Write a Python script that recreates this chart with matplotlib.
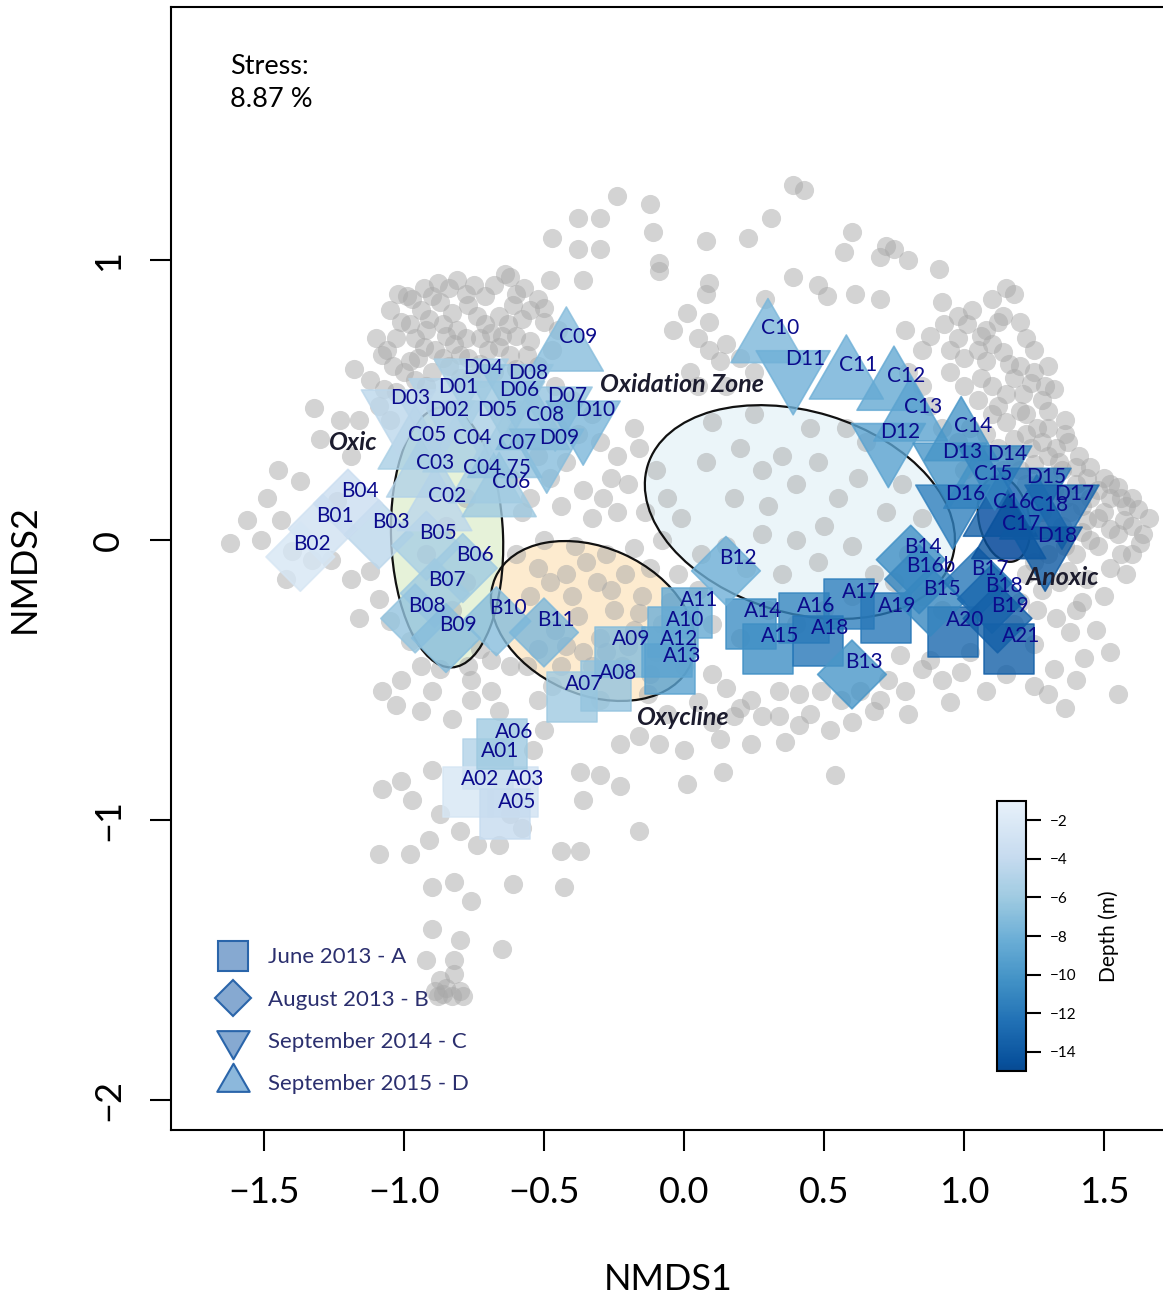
import numpy as np
import matplotlib
matplotlib.use('Agg')
import matplotlib.pyplot as plt
from matplotlib.patches import Ellipse
from matplotlib.lines import Line2D
from matplotlib.markers import MarkerStyle
from matplotlib.path import Path
from matplotlib.colors import ListedColormap, Normalize
from matplotlib.cm import ScalarMappable

plt.rcParams['font.family'] = ['Lato', 'DejaVu Sans']

# all OTU / site scores in grey (background)
bg_pts = [
    (0.39, 1.27), (0.43, 1.25), (-0.24, 1.23), (-0.38, 1.15), (-0.12, 1.20), (-0.30, 1.15), (0.31, 1.15),
    (-0.11, 1.10), (-0.47, 1.08), (0.08, 1.07), (0.23, 1.08), (0.60, 1.10), (-0.30, 1.04), (-0.38, 1.04),
    (0.70, 1.01), (0.75, 1.04), (0.72, 1.05), (0.57, 1.03), (0.80, 1.00), (0.91, 0.97), (-0.09, 0.99),
    (-0.09, 0.96), (0.39, 0.94), (0.48, 0.91), (-0.62, 0.94), (-0.48, 0.93), (-0.36, 0.93), (0.09, 0.92),
    (0.08, 0.88), (0.51, 0.87), (0.70, 0.86), (0.61, 0.88), (0.29, 0.86), (0.01, 0.81), (0.09, 0.78),
    (-0.04, 0.75), (0.15, 0.70), (0.05, 0.72), (0.09, 0.68), (0.13, 0.64), (0.20, 0.65), (0.02, 0.60),
    (0.92, 0.85), (1.03, 0.82), (1.14, 0.80), (0.93, 0.77), (1.01, 0.77), (0.79, 0.75), (0.88, 0.73),
    (1.10, 0.70), (1.14, 0.67), (1.20, 0.62), (1.25, 0.60), (1.29, 0.55), (1.32, 0.54), (1.21, 0.52),
    (1.28, 0.50), (1.30, 0.46), (1.36, 0.43), (1.20, 0.46), (1.26, 0.40), (1.37, 0.35), (1.41, 0.30),
    (1.33, 0.33), (1.45, 0.26), (1.50, 0.22), (1.55, 0.19), (1.60, 0.15), (1.62, 0.11), (1.57, 0.07),
    (1.50, 0.10), (1.44, 0.07), (1.55, 0.02), (1.63, -0.01), (1.48, -0.02), (1.40, -0.05), (1.52, -0.10),
    (1.44, -0.14), (1.37, -0.11), (1.50, -0.20), (1.42, -0.22), (1.33, -0.28), (1.47, -0.32), (1.38, -0.33),
    (1.25, -0.37), (1.43, -0.42), (1.32, -0.46), (1.52, -0.40), (1.40, -0.50), (1.30, -0.55), (1.36, -0.60),
    (1.55, -0.55), (1.05, 0.50), (1.10, 0.45), (1.15, 0.42), (1.22, 0.38), (1.28, 0.35), (1.35, 0.25),
    (1.40, 0.20), (1.32, 0.18), (1.45, 0.15), (1.38, 0.10), (1.52, 0.15), (1.58, 0.12), (1.45, 0.00),
    (1.35, 0.05), (1.28, 0.10), (1.22, 0.20), (1.25, 0.27), (1.18, 0.30), (1.10, 0.20), (1.00, 0.25),
    (0.98, 0.35), (0.92, 0.40), (0.88, 0.48), (0.85, 0.55), (0.80, 0.60), (0.95, 0.60), (1.00, 0.65),
    (0.85, 0.68), (1.06, 0.58), (1.60, 0.05), (1.66, 0.08), (1.60, -0.05), (1.52, 0.04),
    (1.10, 0.86), (1.18, 0.88), (1.15, 0.90), (1.08, 0.75), (0.98, 0.72), (1.25, 0.68), (1.05, 0.68),
    (1.20, 0.78), (1.30, 0.62),
    (1.02, 0.40), (1.08, 0.38), (1.12, 0.33), (1.18, 0.36), (1.24, 0.33), (1.30, 0.30), (1.34, 0.28),
    (1.40, 0.26), (1.44, 0.22), (1.48, 0.18), (1.52, 0.20), (1.56, 0.15), (1.42, 0.12), (1.36, 0.15),
    (1.30, 0.22), (1.26, 0.20), (1.20, 0.25), (1.14, 0.25), (1.06, 0.30), (1.48, 0.08), (1.42, 0.03),
    (1.36, -0.02), (1.30, -0.05), (1.25, -0.08), (1.34, -0.15), (1.28, -0.18), (1.22, -0.12), (1.20, -0.22),
    (1.18, -0.30), (1.26, -0.25), (1.40, -0.25), (1.56, -0.05), (1.58, -0.12), (1.64, 0.02), (1.10, 0.55),
    (1.15, 0.52), (1.12, 0.48), (1.18, 0.58), (1.24, 0.56), (1.30, 0.40), (1.36, 0.38), (1.22, 0.45),
    (1.16, 0.63), (1.22, 0.72), (1.12, 0.78), (1.06, 0.73), (0.98, 0.80), (0.95, 0.68), (1.08, 0.64),
    (1.00, 0.55),
    (1.08, -0.54), (0.99, -0.47), (0.92, -0.50), (0.85, -0.46), (0.77, -0.41), (0.88, -0.43), (0.79, -0.54),
    (0.70, -0.57), (0.68, -0.61), (0.63, -0.54), (0.73, -0.50), (0.56, -0.57), (0.49, -0.54), (0.41, -0.55),
    (0.34, -0.54), (0.34, -0.63), (0.41, -0.66), (0.28, -0.63), (0.24, -0.57), (0.24, -0.73), (0.13, -0.71),
    (0.14, -0.83), (0.01, -0.87), (-0.16, -1.04), (0.54, -0.84), (0.00, -0.75), (-0.09, -0.73), (-0.16, -0.70),
    (-0.23, -0.73), (-0.30, -0.57), (-0.37, -0.83), (-0.30, -0.84), (-0.23, -0.88), (-0.36, -0.93),
    (-0.37, -1.11), (-0.44, -1.11), (-0.43, -1.24), (-0.61, -1.23), (-0.65, -1.46), (-0.76, -1.29),
    (-0.82, -1.22), (-0.80, -1.43), (-0.90, -1.39), (-0.92, -1.50), (-0.87, -1.57), (-0.82, -1.55),
    (-0.86, -1.62), (-0.80, -1.61), (-0.89, -1.61), (-0.82, -1.50), (-0.90, -1.24), (-0.91, -1.07),
    (-0.98, -1.12), (-1.09, -1.12), (-1.08, -0.89), (-1.01, -0.86), (-0.97, -0.93), (-0.90, -0.82),
    (-0.87, -0.98), (-0.80, -1.04), (-0.74, -1.09), (-0.66, -1.09), (-0.62, -0.98), (-0.58, -1.03),
    (-0.83, -0.64), (-0.76, -0.57), (-0.94, -0.61), (-1.03, -0.59), (-1.08, -0.54), (-1.01, -0.50),
    (-0.90, -0.54), (-0.76, -0.50), (-0.69, -0.54), (-0.66, -0.61), (-0.52, -0.57), (-0.50, -0.68),
    (-0.54, -0.75), (-0.62, -0.45), (-0.69, -0.43), (-0.52, -0.39), (-0.85, -1.60), (-0.83, -1.63),
    (-0.79, -1.63), (-0.88, -1.63),
    (0.60, -0.65), (0.52, -0.68), (0.45, -0.62), (0.36, -0.72), (0.20, -0.60), (0.10, -0.65), (0.80, -0.62),
    (0.95, -0.58), (1.02, -0.40), (1.15, -0.48), (1.25, -0.52),
    (-1.62, -0.01), (-1.56, 0.07), (-1.49, 0.15), (-1.45, 0.25), (-1.37, 0.21), (-1.32, 0.47), (-1.18, 0.61),
    (-1.12, 0.57), (-1.16, 0.43), (-1.23, 0.43), (-1.09, 0.48), (-1.07, 0.54), (-1.05, 0.43), (-1.30, 0.36),
    (-1.19, 0.30), (-1.24, 0.14), (-1.44, 0.07), (-1.40, -0.04), (-1.51, 0.00), (-1.42, -0.14), (-1.33, -0.07),
    (-1.26, -0.07), (-1.19, -0.14), (-1.12, -0.11), (-1.16, -0.28), (-1.09, -0.21), (-1.05, -0.29),
    (-0.98, -0.36), (-0.94, -0.45), (-0.87, -0.46), (-0.73, -0.39), (-0.77, -0.45),
    (-0.92, -0.05), (-0.85, 0.05), (-0.78, -0.15), (-0.83, -0.25), (-0.78, 0.15), (-0.90, 0.35),
    (-1.02, 0.88), (-0.97, 0.86), (-0.87, 0.85), (-0.77, 0.84), (-0.71, 0.87), (-0.61, 0.84), (-0.55, 0.82),
    (-0.98, 0.77), (-0.94, 0.82), (-0.83, 0.81), (-0.71, 0.77), (-0.66, 0.80), (-0.50, 0.78), (-1.03, 0.72),
    (-0.92, 0.75), (-0.85, 0.73), (-0.78, 0.72), (-0.60, 0.73), (-1.06, 0.68), (-0.95, 0.65), (-0.89, 0.68),
    (-0.80, 0.66), (-0.73, 0.63), (-0.66, 0.69), (-1.00, 0.60), (-0.90, 0.60), (-0.84, 0.62), (-0.68, 0.60),
    (-1.03, 0.53), (-0.92, 0.55), (-0.76, 0.58), (-0.88, 0.92), (-0.93, 0.90), (-0.81, 0.93), (-0.75, 0.91),
    (-0.64, 0.95), (-0.57, 0.90), (-0.52, 0.86), (-0.99, 0.87), (-1.05, 0.82),
    (-1.01, 0.78), (-0.96, 0.72), (-0.91, 0.79), (-0.86, 0.77), (-0.81, 0.75), (-0.74, 0.80), (-0.69, 0.74),
    (-0.63, 0.77), (-0.58, 0.79), (-0.55, 0.71), (-0.62, 0.66), (-0.70, 0.68), (-0.77, 0.65), (-0.86, 0.65),
    (-0.98, 0.64), (-1.04, 0.62), (-0.93, 0.69), (-0.82, 0.70), (-0.73, 0.72), (-0.65, 0.73), (-0.56, 0.66),
    (-0.60, 0.61), (-0.72, 0.58), (-0.80, 0.58), (-0.96, 0.57), (-1.08, 0.66), (-1.10, 0.72), (-0.90, 0.87),
    (-0.84, 0.90), (-0.78, 0.88), (-0.68, 0.91), (-0.60, 0.88), (-0.50, 0.83), (-0.45, 0.75), (-0.47, 0.68),
    (-0.52, 0.62),
    (-0.46, 0.55), (-0.40, 0.50), (-0.33, 0.45), (-0.30, 0.35), (-0.24, 0.30), (-0.16, 0.33), (-0.10, 0.25),
    (-0.20, 0.20), (-0.36, 0.18), (-0.29, 0.15), (-0.42, 0.28), (-0.48, 0.22), (-0.55, 0.15), (-0.58, 0.10),
    (-0.44, 0.12), (-0.33, 0.08), (-0.24, 0.10), (-0.14, 0.10), (-0.06, 0.15), (-0.01, 0.08), (-0.08, 0.00),
    (-0.18, -0.03), (-0.28, -0.05), (-0.39, -0.02), (-0.50, 0.00), (-0.60, -0.05), (-0.52, -0.10),
    (-0.42, -0.12), (-0.31, -0.15), (-0.21, -0.12), (-0.12, -0.10), (-0.02, -0.12), (0.06, -0.05),
    (0.05, -0.18), (-0.05, -0.22), (-0.15, -0.20), (-0.25, -0.25), (-0.38, -0.27), (-0.46, -0.32),
    (-0.30, -0.35), (-0.18, -0.32), (-0.10, -0.40), (-0.22, -0.45), (-0.33, -0.45), (-0.44, -0.45),
    (-0.13, -0.55), (0.00, -0.45), (0.10, -0.48), (0.05, -0.58), (-0.06, -0.62), (0.18, -0.63), (0.15, -0.53),
    (-0.55, -0.20), (-0.48, -0.15), (-0.40, -0.20), (-0.35, -0.08), (-0.26, -0.18), (-0.16, -0.26),
    (-0.08, -0.30), (-0.42, -0.38), (-0.36, -0.40), (-0.28, -0.40), (-0.20, -0.38), (-0.12, -0.48),
    (-0.56, -0.45), (-0.47, -0.52), (-0.62, 0.22), (-0.52, 0.30), (-0.45, 0.40), (-0.38, 0.38),
    (-0.26, 0.22), (-0.18, 0.40),
    (0.08, 0.28), (0.20, 0.33), (0.28, 0.25), (0.18, 0.15), (0.30, 0.12), (0.40, 0.20), (0.48, 0.28),
    (0.35, 0.30), (0.55, 0.15), (0.62, 0.22), (0.72, 0.10), (0.50, 0.05), (0.40, 0.00), (0.28, 0.02),
    (0.15, -0.02), (0.22, -0.10), (0.35, -0.12), (0.48, -0.08), (0.60, -0.02), (0.68, -0.12), (0.80, -0.05),
    (0.85, 0.08), (0.78, 0.20), (0.65, 0.35), (0.45, 0.40), (0.10, 0.42), (0.25, 0.45), (0.58, 0.40),
    (0.75, -0.15), (0.85, -0.20), (0.92, -0.25), (0.30, -0.25), (0.40, -0.30), (0.10, -0.30), (0.20, -0.35),
    (0.60, -0.20), (0.50, -0.25), (0.05, 0.55), (0.15, 0.55), (0.25, 0.60),
]

# samples: June 2013 (A)
A_names = ['A01', 'A02', 'A03', 'A05', 'A06', 'A07', 'A08', 'A09', 'A10', 'A11', 'A12', 'A13',
           'A14', 'A15', 'A16', 'A17', 'A18', 'A19', 'A20', 'A21']
A_x = [-0.70, -0.77, -0.61, -0.64, -0.65, -0.40, -0.28, -0.23, -0.04, 0.01, -0.06, -0.05,
       0.24, 0.30, 0.43, 0.59, 0.48, 0.72, 0.96, 1.16]
A_y = [-0.80, -0.90, -0.90, -0.98, -0.73, -0.56, -0.52, -0.40, -0.33, -0.26, -0.40, -0.46,
       -0.30, -0.39, -0.28, -0.23, -0.36, -0.28, -0.33, -0.39]
A_depth = [-5, -2.5, -3, -4, -6, -6, -6.5, -7, -8, -8.5, -8.5, -9,
           -10.5, -10.5, -11, -11.5, -12, -12, -13, -13.5]

# August 2013 (B)
B_names = ['B01', 'B02', 'B03', 'B04', 'B05', 'B06', 'B07', 'B08', 'B09', 'B10', 'B11', 'B12',
           'B13', 'B14', 'B15', 'B16b', 'B17', 'B18', 'B19']
B_x = [-1.29, -1.37, -1.09, -1.20, -0.92, -0.79, -0.89, -0.96, -0.85, -0.67, -0.50, 0.15,
       0.60, 0.81, 0.88, 0.84, 1.05, 1.10, 1.12]
B_y = [0.04, -0.06, 0.02, 0.13, -0.02, -0.10, -0.19, -0.28, -0.35, -0.29, -0.33, -0.11,
       -0.48, -0.07, -0.22, -0.14, -0.15, -0.21, -0.28]
B_depth = [-3, -2.5, -4.5, -3.5, -5.5, -6, -6, -6.5, -7, -7, -7.5, -8,
           -10, -10.5, -11, -11, -12, -13, -13.5]

# September 2014 (C)
C_names = ['C02', 'C03', 'C04', 'C04 75', 'C05', 'C06', 'C07', 'C08', 'C09', 'C10', 'C11', 'C12',
           'C13', 'C14', 'C15', 'C16', 'C17', 'C18']
C_x = [-0.89, -0.93, -0.80, -0.71, -0.96, -0.66, -0.64, -0.54, -0.42, 0.30, 0.58, 0.75,
       0.81, 0.99, 1.06, 1.13, 1.16, 1.26]
C_y = [0.11, 0.23, 0.32, 0.21, 0.33, 0.16, 0.30, 0.40, 0.68, 0.71, 0.58, 0.54,
       0.43, 0.36, 0.19, 0.09, 0.01, 0.08]
C_depth = [-4.5, -5, -5.5, -5.5, -5.5, -6, -6.5, -7, -7, -7.5, -8, -8.5,
           -9, -10, -11, -13.5, -14.5, -14]

# September 2015 (D)
D_names = ['D01', 'D02', 'D03', 'D04', 'D05', 'D06', 'D07', 'D08', 'D09', 'D10', 'D11', 'D12',
           'D13', 'D14', 'D15', 'D16', 'D17', 'D18']
D_x = [-0.85, -0.88, -1.02, -0.76, -0.71, -0.63, -0.46, -0.60, -0.49, -0.36, 0.39, 0.73,
       0.95, 1.11, 1.25, 0.96, 1.35, 1.29]
D_y = [0.50, 0.42, 0.46, 0.57, 0.42, 0.49, 0.47, 0.55, 0.32, 0.42, 0.60, 0.34,
       0.27, 0.26, 0.18, 0.12, 0.12, -0.03]
D_depth = [-5, -5, -4.5, -5.5, -5.5, -6, -6.5, -6.5, -7, -7.5, -8, -9,
           -10, -11, -12, -11.5, -13, -14]

# ordination ellipses
ell_names = ['Oxic', 'Oxycline', 'Oxidation Zone', 'Anoxic']
ell_cx = [-0.846, -0.325, 0.414, 1.143]
ell_cy = [0.01, -0.289, 0.10, 0.075]
ell_w = [0.40, 0.763, 1.137, 0.18]
ell_h = [0.93, 0.525, 0.719, 0.31]
ell_ang = [2, -24, -17, 12]
ell_fill = ['#e6f2d9', '#fdebcf', '#ebf5f9', '#aaa5d6']

# label positions of the zones
zone_x = [-1.18, -0.004, -0.007, 1.35]
zone_y = [0.35, -0.632, 0.554, -0.132]

x_ticks = [-1.5, -1.0, -0.5, 0.0, 0.5, 1.0, 1.5]
x_ticklabels = ['\u22121.5', '\u22121.0', '\u22120.5', '0.0', '0.5', '1.0', '1.5']
y_ticks = [-2, -1, 0, 1]
y_ticklabels = ['\u22122', '\u22121', '0', '1']
depth_ticks = [-2, -4, -6, -8, -10, -12, -14]

campaigns = ['June 2013 - A', 'August 2013 - B', 'September 2014 - C', 'September 2015 - D']

cmap = ListedColormap(plt.cm.Blues(np.linspace(0.9, 0.08, 256)))
norm = Normalize(vmin=-15, vmax=-1)

tri_up = MarkerStyle(Path([(-1, -0.577), (1, -0.577), (0, 1.155), (-1, -0.577)], closed=True))
tri_dn = MarkerStyle(Path([(-1, 0.577), (1, 0.577), (0, -1.155), (-1, 0.577)], closed=True))

fig = plt.figure(figsize=(11.63, 12.96), dpi=100)
ax = fig.add_axes([171 / 1163, 166 / 1296, 994 / 1163, 1123 / 1296])

bg = np.array(bg_pts)
for i in range(4):
    ax.add_patch(Ellipse((ell_cx[i], ell_cy[i]), ell_w[i], ell_h[i], angle=ell_ang[i],
                         facecolor=ell_fill[i], edgecolor='none', zorder=1))
ax.scatter(bg[:, 0], bg[:, 1], s=190, color='#a8a8a8', alpha=0.5, linewidths=0, zorder=2)
for i in range(4):
    ax.add_patch(Ellipse((ell_cx[i], ell_cy[i]), ell_w[i], ell_h[i], angle=ell_ang[i],
                         facecolor='none', edgecolor='#111111', lw=1.6, zorder=2.5))

groups = [
    (A_names, A_x, A_y, A_depth, 's', 1296),
    (B_names, B_x, B_y, B_depth, 'D', 1225),
    (C_names, C_x, C_y, C_depth, tri_up, 3780),
    (D_names, D_x, D_y, D_depth, tri_dn, 3780),
]
for names, xs, ys, ds, mk, sz in groups:
    cols = cmap(norm(np.array(ds)))
    ax.scatter(xs, ys, s=sz, marker=mk, c=cols, alpha=0.8, edgecolors=cols, linewidths=1.2, zorder=3)
for names, xs, ys, ds, mk, sz in groups:
    for n, xx, yy in zip(names, xs, ys):
        ax.text(xx + 0.043, yy + 0.046, n, color='#0b0b8c', fontsize=15, ha='center', va='center', zorder=4)

for i in range(4):
    ax.text(zone_x[i], zone_y[i], ell_names[i], fontsize=18, fontweight='bold', fontstyle='italic',
            color='#1c1c2e', ha='center', va='center', zorder=5)

ax.text(0.0594, 0.958, 'Stress:\n8.87 %', transform=ax.transAxes, fontsize=19.5, ha='left', va='top',
        linespacing=1.4)

ax.set_xlim(-1.832, 1.718)
ax.set_ylim(-2.107, 1.904)
ax.set_xticks(x_ticks)
ax.set_xticklabels(x_ticklabels)
ax.set_yticks(y_ticks)
ax.set_yticklabels(y_ticklabels, rotation=90, va='center')
ax.tick_params(axis='both', length=15, width=1.5, labelsize=26, pad=18)
for sp in ax.spines.values():
    sp.set_linewidth(1.5)
ax.set_xlabel('NMDS1', fontsize=26, labelpad=39)
ax.set_ylabel('NMDS2', fontsize=26, labelpad=37)

handles = [
    Line2D([], [], ls='none', marker='s', ms=21.6, mfc='#86a9d1', mec='#2a65aa', mew=1.5),
    Line2D([], [], ls='none', marker='D', ms=18, mfc='#86a9d1', mec='#2a65aa', mew=1.5),
    Line2D([], [], ls='none', marker=tri_dn, ms=27, mfc='#86a9d1', mec='#2a65aa', mew=1.5),
    Line2D([], [], ls='none', marker=tri_up, ms=27, mfc='#8cb8dc', mec='#2a65aa', mew=1.5),
]
leg = ax.legend(handles, campaigns, loc='lower left', bbox_to_anchor=(0.031, 0.024), frameon=False,
                fontsize=16, labelspacing=1.0, handletextpad=0.6, borderaxespad=0)
for t in leg.get_texts():
    t.set_color('#2b2f6e')

cax = fig.add_axes([997 / 1163, 225 / 1296, 29 / 1163, 270 / 1296])
cb = fig.colorbar(ScalarMappable(norm=norm, cmap=cmap), cax=cax)
cb.set_ticks(depth_ticks)
cb.set_ticklabels(['\u2212' + str(-d) for d in depth_ticks])
cb.ax.tick_params(length=11, width=1.5, labelsize=11, pad=6)
cb.outline.set_linewidth(1.5)
cb.set_label('Depth (m)', fontsize=15, labelpad=16)

fig.savefig('out.png', dpi=100)
